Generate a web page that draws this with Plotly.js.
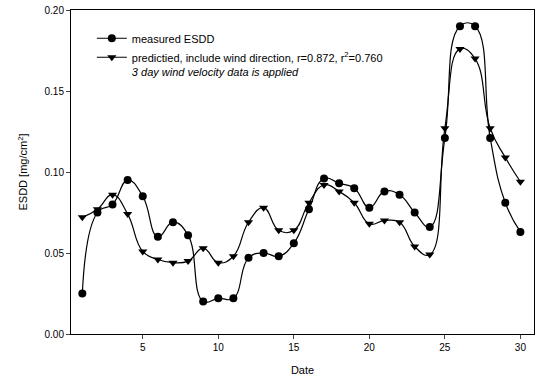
<!DOCTYPE html>
<html>
<head>
<meta charset="utf-8">
<script src="https://cdn.plot.ly/plotly-3.0.1.min.js"></script>
<style>html,body{margin:0;padding:0;background:#fff;}#chart{width:541px;height:387px;}</style>
</head>
<body>
<div id="chart"></div>
<script>
const days = [1,2,3,4,5,6,7,8,9,10,11,12,13,14,15,16,17,18,19,20,21,22,23,24,25,26,27,28,29,30];
const measured = [0.025,0.075,0.080,0.095,0.085,0.060,0.069,0.061,0.020,0.022,0.022,0.047,0.050,0.048,0.056,0.077,0.096,0.093,0.090,0.078,0.088,0.086,0.075,0.066,0.121,0.190,0.190,0.121,0.081,0.063];
const predicted = [0.072,0.077,0.086,0.074,0.051,0.046,0.044,0.045,0.053,0.044,0.048,0.069,0.078,0.064,0.064,0.081,0.092,0.088,0.081,0.068,0.070,0.069,0.054,0.049,0.127,0.176,0.170,0.127,0.109,0.094];
const yTicks = [0, 0.05, 0.10, 0.15, 0.20];
const yTickText = ['0.00','0.05','0.10','0.15','0.20'];
const xTicks = [5,10,15,20,25,30];
const name1 = 'measured ESDD';
const name2 = 'predictied, include wind direction, r=0.872, r<sup>2</sup>=0.760';
const note = '3 day wind velocity data is applied';

const traces = [
  {x: days, y: measured, name: name1, type: 'scatter', mode: 'lines+markers',
   line: {color: '#000', width: 1.2, shape: 'spline', smoothing: 1.3},
   marker: {symbol: 'circle', size: 8, color: '#000'}},
  {x: days, y: predicted, name: name2 + '<br><i>' + note + '</i>', type: 'scatter', mode: 'lines+markers',
   line: {color: '#000', width: 1.2, shape: 'spline', smoothing: 1.3},
   marker: {symbol: 'triangle-down', size: 8, color: '#000'}}
];
const layout = {
  width: 541, height: 387,
  margin: {l: 71, r: 7, t: 10, b: 53},
  paper_bgcolor: '#fff', plot_bgcolor: '#fff',
  font: {family: 'Liberation Sans, Arial, sans-serif', size: 10, color: '#000'},
  showlegend: true,
  legend: {x: 0.045, y: 0.955, xanchor: 'left', yanchor: 'top', bgcolor: 'rgba(0,0,0,0)',
    font: {size: 11, color: '#000'}, itemwidth: 30, tracegroupgap: 0, valign: 'top'},
  xaxis: {range: [0.25, 30.9], tickvals: xTicks, ticks: 'outside', ticklen: 4, tickwidth: 1,
    showline: true, linecolor: '#000', linewidth: 1, mirror: true, showgrid: false, zeroline: false,
    title: {text: 'Date', font: {size: 11}, standoff: 14}},
  yaxis: {range: [0, 0.2], tickvals: yTicks, ticktext: yTickText, ticks: 'outside', ticklen: 4, tickwidth: 1,
    showline: true, linecolor: '#000', linewidth: 1, mirror: true, showgrid: false, zeroline: false,
    title: {text: 'ESDD [mg/cm<sup>2</sup>]', font: {size: 11}, standoff: 14}}
};
Plotly.newPlot('chart', traces, layout, {displayModeBar: false, staticPlot: true});
</script>
</body>
</html>
